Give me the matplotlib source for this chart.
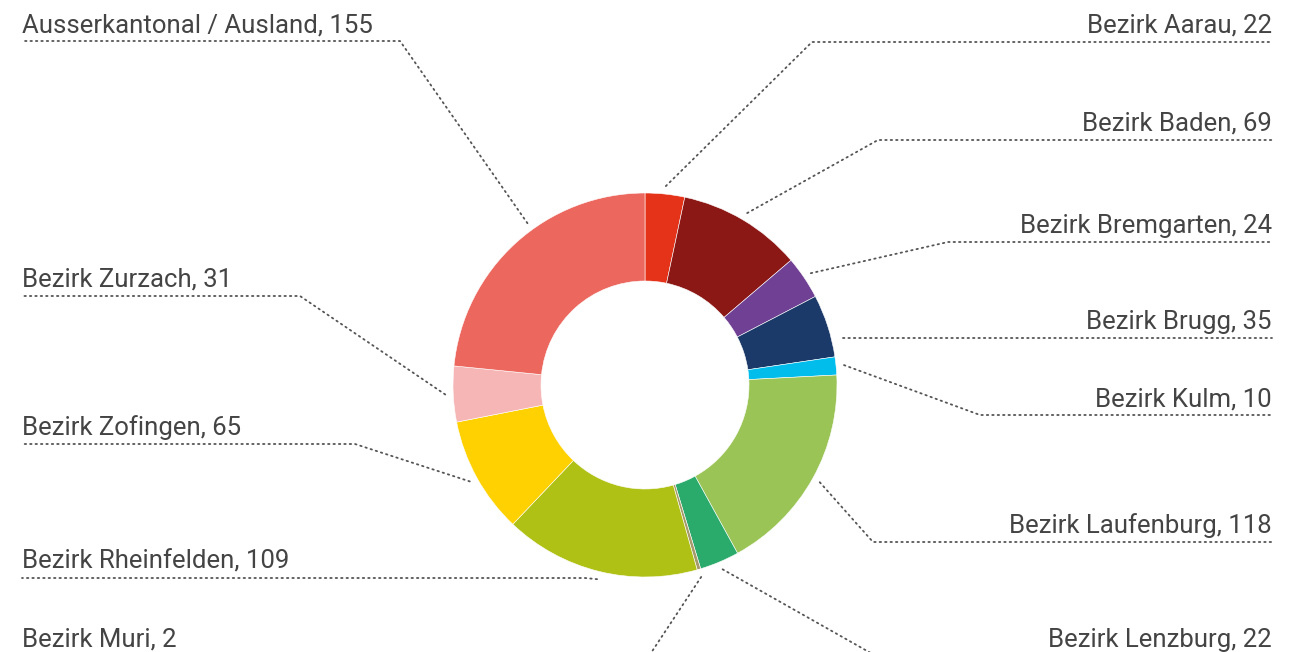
import numpy as np
import matplotlib.pyplot as plt

# data, clockwise from top
labels = ["Bezirk Aarau", "Bezirk Baden", "Bezirk Bremgarten", "Bezirk Brugg",
          "Bezirk Kulm", "Bezirk Laufenburg", "Bezirk Lenzburg", "Bezirk Muri",
          "Bezirk Rheinfelden", "Bezirk Zofingen", "Bezirk Zurzach",
          "Ausserkantonal / Ausland"]
values = [22, 69, 24, 35, 10, 118, 22, 2, 109, 65, 31, 155]
colors = ["#E5331A", "#8C1816", "#6F4093", "#1C3A69", "#00BDEC", "#9BC457",
          "#2BAB6B", "#A69A6C", "#B0C116", "#FFD100", "#F5B6B5", "#EC675E"]

# label layout in pixels: side, y of the dotted line, x of the elbow
sides = ["R", "R", "R", "R", "R", "R", "R", "L", "L", "L", "L", "L"]
line_y = [42, 140, 242, 338, 415, 542, 656, 656, 578, 444, 296, 41]
elbow_x = [812, 878, 948, 843, 980, 873, 876, 649, 585, 355, 300, 400]
# where the leader starts (degrees clockwise from top); None = wedge middle
anchor_deg = [None, None, None, None, None, None, None, None, None, None, None, 324]

W, H = 1306, 652
cx, cy = 645, 385
R_out, R_in = 192, 104

fig = plt.figure(figsize=(W / 100, H / 100), dpi=100)
ax = fig.add_axes([0, 0, 1, 1])

# y axis is inverted, so counterclock=True draws clockwise on screen
ax.pie(values, colors=colors, center=(cx, cy), radius=R_out,
       startangle=-90, counterclock=True, frame=True,
       wedgeprops=dict(width=R_out - R_in, edgecolor="white", linewidth=0.4))
ax.set_xlim(0, W)
ax.set_ylim(H, 0)
ax.set_aspect("equal")
ax.axis("off")

total = sum(values)
cum = np.cumsum([0] + values)
dot = dict(color="#555555", linewidth=1.3, linestyle=(0, (0.8, 2.2)),
           dash_capstyle="round")
font = dict(fontsize=18.5, color="#444444", family="Roboto", fontweight="normal")

for i, lab in enumerate(labels):
    ly = line_y[i]
    ex = elbow_x[i]
    if anchor_deg[i] is None:
        ang = (cum[i] + values[i] / 2) / total * 2 * np.pi
    else:
        ang = np.radians(anchor_deg[i])
    a_x = cx + 200 * np.sin(ang)
    a_y = cy - 200 * np.cos(ang)
    if lab == "Bezirk Brugg":
        # this one runs straight out
        a_x, a_y = ex, ly
    text = f"{lab}, {values[i]}"
    if sides[i] == "R":
        ax.plot([a_x, ex, 1272], [a_y, ly, ly], **dot)
        ax.text(1272, ly - 9, text, ha="right", va="baseline", **font)
    else:
        ax.plot([a_x, ex, 22], [a_y, ly, ly], **dot)
        ax.text(22, ly - 9, text, ha="left", va="baseline", **font)

fig.savefig("out.png", dpi=100)
